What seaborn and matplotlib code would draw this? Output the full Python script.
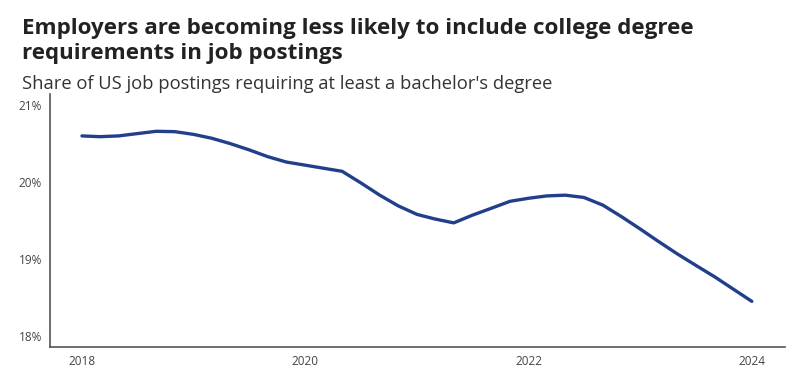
import seaborn as sns
import matplotlib.pyplot as plt
import matplotlib.dates as mdates
import pandas as pd

# share of postings requiring a bachelor's degree, every 2 months from Jan 2018
start_month = "2018-01-01"
share_pct = [
    20.60, 20.59, 20.60, 20.63, 20.66, 20.655, 20.62, 20.57, 20.50, 20.42,
    20.33, 20.26, 20.22, 20.18, 20.14, 19.99, 19.83, 19.69, 19.58, 19.52,
    19.47, 19.57, 19.66, 19.75, 19.79, 19.82, 19.83, 19.80, 19.70, 19.55,
    19.39, 19.23, 19.07, 18.92, 18.77, 18.61, 18.45,
]
year_ticks = ["2018", "2020", "2022", "2024"]
pct_ticks = [18, 19, 20, 21]

title_lines = [
    "Employers are becoming less likely to include college degree",
    "requirements in job postings",
]
subtitle = "Share of US job postings requiring at least a bachelor's degree"

df = pd.DataFrame({
    "date": pd.date_range(start_month, periods=len(share_pct), freq="2MS"),
    "share": share_pct,
})

sns.set_style("white")
plt.rcParams["font.family"] = ["Open Sans", "DejaVu Sans"]

fig = plt.figure(figsize=(7.96, 3.78), dpi=100)
ax = fig.add_axes([0.063, 0.082, 0.923, 0.669])

sns.lineplot(data=df, x="date", y="share", ax=ax, color="#213f8a", linewidth=2.4)

ax.set_xlim(pd.Timestamp("2017-09-19"), pd.Timestamp("2024-04-18"))
ax.set_ylim(17.857, 21.143)
ax.set_xticks([pd.Timestamp(f"{y}-01-01") for y in year_ticks])
ax.xaxis.set_major_formatter(mdates.DateFormatter("%Y"))
ax.set_yticks(pct_ticks)
ax.set_yticklabels([f"{v}%" for v in pct_ticks])
ax.tick_params(axis="both", length=0, labelsize=8.5, colors="#444444", pad=6)
ax.set_xlabel("")
ax.set_ylabel("")

for side in ["top", "right"]:
    ax.spines[side].set_visible(False)
for side in ["left", "bottom"]:
    ax.spines[side].set_color("#555555")
    ax.spines[side].set_linewidth(1.2)

# title on two lines, then subtitle
fig.text(0.028, 0.910, title_lines[0], fontsize=16.1, fontweight="bold",
         color="#222222", va="baseline")
fig.text(0.028, 0.844, title_lines[1], fontsize=16.1, fontweight="bold",
         color="#222222", va="baseline")
fig.text(0.028, 0.765, subtitle, fontsize=13.25, color="#333333", va="baseline")

plt.savefig("out.png", dpi=100)
